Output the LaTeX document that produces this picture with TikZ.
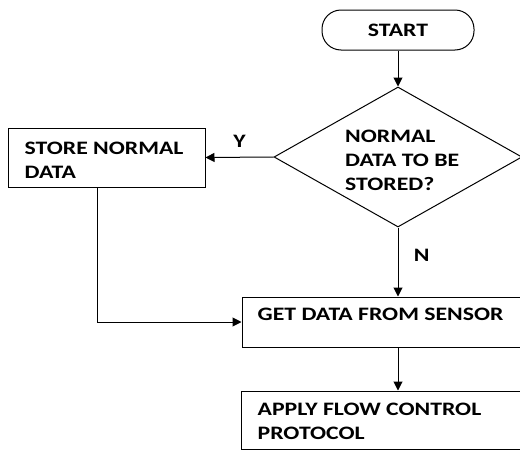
\documentclass[tikz,border=0pt]{standalone}
\usepackage{fontspec}
\setmainfont{Carlito}[FakeStretch=1.25]
\usetikzlibrary{arrows.meta,shapes.geometric}

\begin{document}
\begin{tikzpicture}[x=1pt, y=-1pt,
    box/.style={draw, line width=1pt, rectangle, inner sep=0pt},
    txt/.style={anchor=north west, inner sep=0pt, align=left,
                font=\fontsize{19}{24}\selectfont\bfseries},
    arr/.style={line width=1pt, -{Triangle[length=9pt,width=9pt]}}
]

\clip (0,0) rectangle (520,450);

% Shapes of the flowchart
\node[box, rounded corners=19pt, minimum width=152pt, minimum height=40pt,
      font=\fontsize{19}{24}\selectfont\bfseries] (start) at (398,30) {START};
\node[box, diamond, minimum width=248pt, minimum height=140pt] (dec) at (398,157) {};
\node[box, minimum width=197pt, minimum height=59pt] (store) at (106.5,157.5) {};
\node[box, minimum width=290pt, minimum height=50pt] (get) at (387,322) {};
\node[box, minimum width=291pt, minimum height=58pt] (apply) at (386.5,420) {};

% Texts in the shapes
\node[txt] (dectxt) at ([shift={(-53,-27)}]dec.center) {NORMAL\\DATA TO BE\\STORED?};
\node[txt] (storetxt) at ([shift={(17,14)}]store.north west) {STORE NORMAL\\DATA};
\node[txt] (gettxt) at ([shift={(16,11)}]get.north west) {GET DATA FROM SENSOR};
\node[txt] (applytxt) at ([shift={(17,12)}]apply.north west) {APPLY FLOW CONTROL\\PROTOCOL};

% Connectors
\draw[arr] (start.south) -- (dec.north);
\draw[arr] (dec.west) -- (store.east)
    node[midway, above=6pt, font=\fontsize{19}{24}\selectfont\bfseries] (y) {Y};
\draw[arr] (dec.south) -- (dec.south |- get.north)
    node[pos=0.4, right=12pt, font=\fontsize{19}{24}\selectfont\bfseries] (n) {N};
\draw[arr] (get.south -| dec.south) -- (apply.north -| dec.south);
\draw[arr] ([xshift=-9.5pt]store.south) |- (get.west);

\end{tikzpicture}
\end{document}
